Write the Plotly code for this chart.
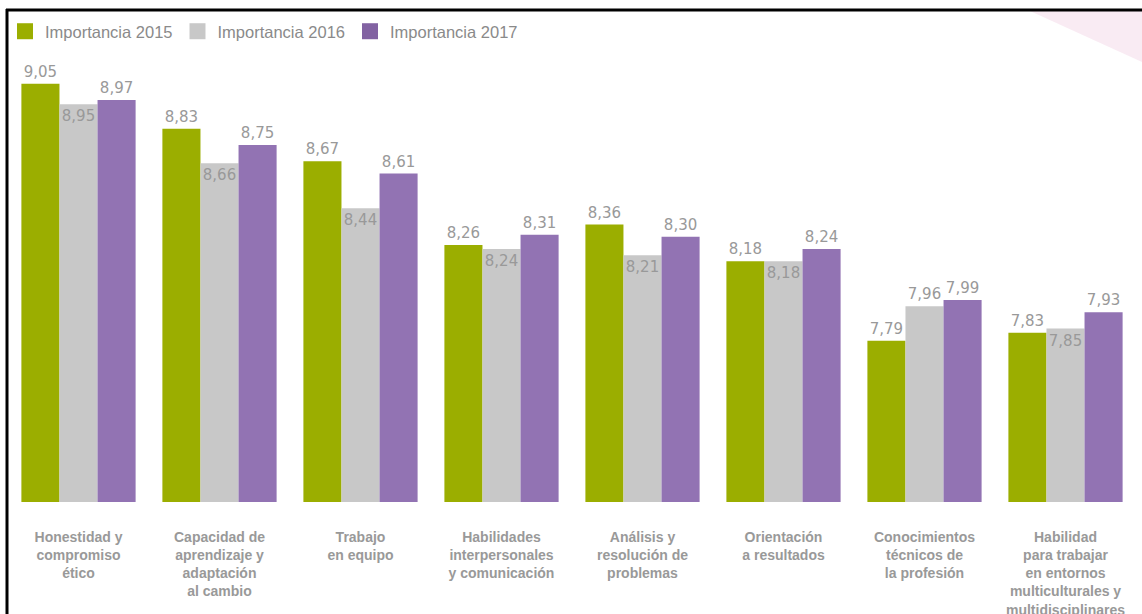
import plotly.graph_objects as go

categories = [
    "Honestidad y<br>compromiso<br>ético",
    "Capacidad de<br>aprendizaje y<br>adaptación<br>al cambio",
    "Trabajo<br>en equipo",
    "Habilidades<br>interpersonales<br>y comunicación",
    "Análisis y<br>resolución de<br>problemas",
    "Orientación<br>a resultados",
    "Conocimientos<br>técnicos de<br>la profesión",
    "Habilidad<br>para trabajar<br>en entornos<br>multiculturales y<br>multidisciplinares",
]
series_names = ["Importancia 2015", "Importancia 2016", "Importancia 2017"]
v2015 = [9.05, 8.83, 8.67, 8.26, 8.36, 8.18, 7.79, 7.83]
v2016 = [8.95, 8.66, 8.44, 8.24, 8.21, 8.18, 7.96, 7.85]
v2017 = [8.97, 8.75, 8.61, 8.31, 8.30, 8.24, 7.99, 7.93]
pos2016 = ["inside", "inside", "inside", "inside", "inside", "inside", "outside", "inside"]

colors = ["#9BAE00", "#C8C8C8", "#9273B3"]
legend_colors = ["#9BAE00", "#C8C8C8", "#8262A2"]
label_color = "#999999"

W, H = 1142, 614
L, R, T, B = 8, 6, 40, 112
ymin = 7.0
px_per_unit = 204.0
ymax = ymin + (H - T - B) / px_per_unit
plot_w = W - L - R
plot_h = H - T - B

lab_font = dict(color=label_color, size=15, family="DejaVu Sans")

fig = go.Figure()
for name, vals, col, tp in [
    (series_names[0], v2015, colors[0], "outside"),
    (series_names[1], v2016, colors[1], pos2016),
    (series_names[2], v2017, colors[2], "outside"),
]:
    fig.add_trace(go.Bar(
        x=categories, y=vals, name=name, marker=dict(color=col, line=dict(width=0)),
        texttemplate="%{y:.2f}", textposition=tp, insidetextanchor="end",
        textangle=0, constraintext="none", cliponaxis=False,
        textfont=lab_font, insidetextfont=lab_font, outsidetextfont=lab_font,
        showlegend=False, hoverinfo="skip",
    ))

for name, col in zip(series_names, legend_colors):
    fig.add_trace(go.Scatter(
        x=[None], y=[None], mode="markers", name=name,
        marker=dict(symbol="square", size=16, color=col), showlegend=True,
    ))

def px_x(p):
    return (p - L) / plot_w

def px_y(p):
    return (H - B - p) / plot_h

shapes = [
    dict(type="path", xref="paper", yref="paper",
         path=f"M {px_x(1030)},{px_y(11)} L {px_x(1142)},{px_y(11)} L {px_x(1142)},{px_y(62)} Z",
         fillcolor="rgba(240,205,225,0.40)", line=dict(width=0), layer="below"),
    dict(type="line", xref="paper", yref="paper",
         x0=px_x(6), x1=px_x(1142), y0=px_y(10), y1=px_y(10),
         line=dict(color="black", width=3)),
    dict(type="line", xref="paper", yref="paper",
         x0=px_x(7), x1=px_x(7), y0=px_y(9), y1=px_y(614),
         line=dict(color="black", width=3)),
]

fig.update_layout(
    width=W, height=H,
    margin=dict(l=L, r=R, t=T, b=B, autoexpand=False),
    paper_bgcolor="white", plot_bgcolor="white",
    separators=",.",
    barmode="group", bargap=0.19, bargroupgap=0,
    font=dict(family="Liberation Sans", color=label_color),
    legend=dict(orientation="h", x=px_x(5), y=px_y(14), xanchor="left", yanchor="top",
                font=dict(size=16.5, color="#8A8A8A", family="Liberation Sans"),
                itemwidth=30, bgcolor="rgba(0,0,0,0)", tracegroupgap=0),
    xaxis=dict(showgrid=False, zeroline=False, showline=False,
               ticks="outside", ticklen=22, tickcolor="rgba(0,0,0,0)",
               tickfont=dict(size=14, color="#999999", family="Liberation Sans", weight="bold")),
    yaxis=dict(range=[ymin, ymax], visible=False, showgrid=False, zeroline=False),
    shapes=shapes,
)

fig.write_html("out.html", config={"displayModeBar": False},
               post_script="document.body.style.margin='0';document.body.style.overflow='hidden';")
